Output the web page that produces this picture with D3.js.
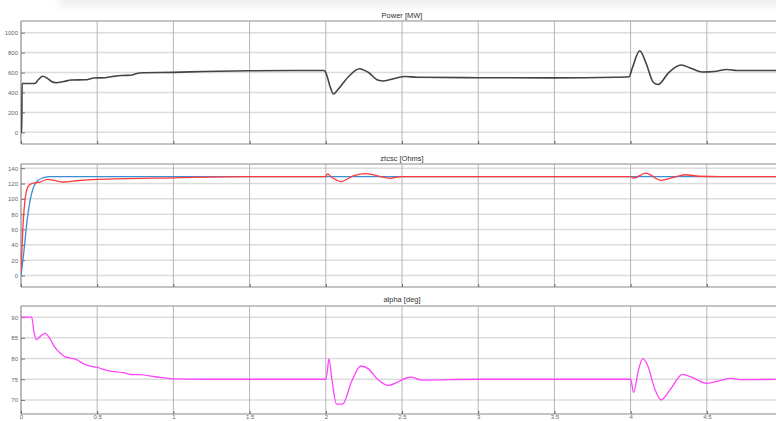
<!DOCTYPE html>
<html>
<head>
<meta charset="utf-8">
<script src="https://cdn.jsdelivr.net/npm/d3@7"></script>
<style>
  body { margin: 0; background: #fff; overflow: hidden; }
  svg { display: block; font-family: "Liberation Sans", Arial, sans-serif; }
</style>
</head>
<body>
<div id="chart"></div>
<script>
// time axis ticks (s)
const xTicks = [0, 0.5, 1, 1.5, 2, 2.5, 3, 3.5, 4, 4.5];
const xTickLabels = ['0', '0.5', '1', '1.5', '2', '2.5', '3', '3.5', '4', '4.5'];

// Power [MW]
const powerT = [0, 0.005, 0.007, 0.09, 0.115, 0.142, 0.17, 0.2, 0.23, 0.28, 0.33, 0.42, 0.48, 0.55, 0.6, 0.66, 0.72, 0.76, 0.8, 1.0, 1.2, 1.5, 1.8, 1.99, 2.0, 2.03, 2.05, 2.08, 2.15, 2.22, 2.28, 2.34, 2.38, 2.45, 2.52, 2.6, 3.0, 3.5, 3.9, 3.99, 4.01, 4.06, 4.1, 4.15, 4.18, 4.25, 4.33, 4.4, 4.47, 4.55, 4.63, 4.7, 5.0];
const powerV = [0, 0, 490, 490, 530, 562, 545, 510, 498, 510, 525, 527, 545, 548, 560, 570, 572, 590, 598, 602, 610, 618, 620, 620, 600, 450, 385, 430, 560, 638, 600, 525, 515, 540, 560, 552, 548, 546, 552, 558, 640, 818, 700, 500, 480, 600, 675, 640, 605, 610, 630, 620, 620];
const powerTicks = [0, 200, 400, 600, 800, 1000];

// ztcsc [Ohms]
const zBlueT = [0, 0.02, 0.04, 0.06, 0.08, 0.105, 0.145, 0.19, 5];
const zBlueV = [0, 33, 72, 98, 114, 123, 127.5, 129, 129];
const zRedT = [0, 0.013, 0.026, 0.046, 0.07, 0.125, 0.175, 0.22, 0.275, 0.38, 0.5, 1.0, 1.5, 2.0, 2.01, 2.04, 2.1, 2.18, 2.26, 2.34, 2.42, 2.5, 4.0, 4.02, 4.1, 4.2, 4.28, 4.36, 4.45, 4.6, 5];
const zRedV = [5, 64, 98, 116, 120, 122, 125.5, 124, 122, 124, 125.4, 127.5, 129, 129, 132.5, 128, 122.6, 130, 133, 130, 126.8, 129, 129, 127, 133.7, 124.2, 128, 131.5, 129.5, 129, 129];
const zTicks = [0, 20, 40, 60, 80, 100, 120, 140];

// alpha [deg]
const alphaT = [0, 0.07, 0.085, 0.1, 0.125, 0.157, 0.19, 0.22, 0.26, 0.29, 0.354, 0.43, 0.5, 0.58, 0.67, 0.72, 0.78, 0.88, 1.0, 1.2, 2.0, 2.01, 2.02, 2.04, 2.07, 2.11, 2.17, 2.23, 2.28, 2.34, 2.41, 2.47, 2.53, 2.56, 2.63, 3.0, 4.0, 4.02, 4.05, 4.08, 4.11, 4.16, 4.2, 4.26, 4.34, 4.4, 4.5, 4.58, 4.66, 4.73, 5];
const alphaV = [90, 90, 86.5, 84.6, 85.3, 86.1, 84.8, 82.8, 81.2, 80.4, 79.9, 78.4, 77.85, 77.0, 76.6, 76.15, 76.1, 75.6, 75.1, 75, 75, 77, 79.9, 75, 69, 69, 74.5, 78.2, 77.5, 75, 73.5, 74.3, 75.3, 75.5, 74.8, 75, 75, 71.8, 77, 80, 78.5, 72.5, 70, 72.5, 76.2, 75.5, 74, 74.6, 75.2, 74.9, 75];
const alphaTicks = [70, 75, 80, 85, 90];

const W = 776, H = 421;
const left = 21, right = 783;

const svg = d3.select('#chart').append('svg')
  .attr('width', W).attr('height', H);

// faint grey smear along the top edge of the screenshot
const defs = svg.append('defs');
defs.append('filter').attr('id', 'blur')
  .attr('x', '-20%').attr('y', '-200%').attr('width', '140%').attr('height', '500%')
  .append('feGaussianBlur').attr('stdDeviation', 4);
svg.append('rect')
  .attr('x', 60).attr('y', -8).attr('width', 740).attr('height', 14)
  .attr('fill', '#d8d8d8').attr('opacity', 0.45).attr('filter', 'url(#blur)');

const x = d3.scaleLinear().domain([0, 5]).range([left, right]);

const panels = [
  { title: 'Power [MW]', top: 21, bottom: 144, domain: [-117, 1117], ticks: powerTicks, titleY: 18,
    series: [{ t: powerT, v: powerV, color: '#444', w: 1.6 }] },
  { title: 'ztcsc [Ohms]', top: 164, bottom: 287, domain: [-15, 145.5], ticks: zTicks, titleY: 161,
    series: [{ t: zBlueT, v: zBlueV, color: '#3b8ed6', w: 1.3 },
             { t: zRedT, v: zRedV, color: '#ff3b3b', w: 1.3 }] },
  { title: 'alpha [deg]', top: 306, bottom: 414, domain: [66.6, 92.7], ticks: alphaTicks, titleY: 302, xLabels: true,
    series: [{ t: alphaT, v: alphaV, color: '#ff44ff', w: 1.3 }] }
];

panels.forEach((p, i) => {
  const y = d3.scaleLinear().domain(p.domain).range([p.bottom, p.top]);
  const g = svg.append('g');

  defs.append('clipPath').attr('id', 'clip' + i)
    .append('rect').attr('x', left).attr('y', p.top)
    .attr('width', right - left).attr('height', p.bottom - p.top);

  // horizontal grid
  g.selectAll('.hgrid').data(p.ticks).join('line')
    .attr('x1', left).attr('x2', right)
    .attr('y1', d => y(d)).attr('y2', d => y(d))
    .attr('stroke', '#dcdcdc').attr('stroke-width', 1.5);

  // vertical grid
  g.selectAll('.vgrid').data(xTicks.slice(1)).join('line')
    .attr('x1', d => x(d)).attr('x2', d => x(d))
    .attr('y1', p.top).attr('y2', p.bottom)
    .attr('stroke', '#b4b4b4').attr('stroke-width', 1);

  // box
  g.append('line').attr('x1', left).attr('x2', right).attr('y1', p.top).attr('y2', p.top)
    .attr('stroke', '#b0b0b0').attr('stroke-width', 1.3);
  g.append('line').attr('x1', left).attr('x2', right).attr('y1', p.bottom).attr('y2', p.bottom)
    .attr('stroke', '#8a8a8a').attr('stroke-width', 1.2);
  g.append('line').attr('x1', left).attr('x2', left).attr('y1', p.top).attr('y2', p.bottom)
    .attr('stroke', '#8a8a8a').attr('stroke-width', 1.2);

  // y axis
  const ya = d3.axisLeft(y).tickValues(p.ticks).tickSize(-4).tickPadding(3)
    .tickFormat(d3.format('d'));
  const yg = g.append('g').attr('transform', `translate(${left},0)`).call(ya);
  yg.select('.domain').remove();
  yg.selectAll('.tick line').attr('stroke', '#777');
  yg.selectAll('.tick text').attr('fill', '#666').attr('font-size', 6);

  // x axis ticks (labels only on the last panel)
  const xa = d3.axisBottom(x).tickValues(xTicks).tickSize(-3).tickPadding(1)
    .tickFormat((d, k) => p.xLabels ? xTickLabels[k] : '');
  const xg = g.append('g').attr('transform', `translate(0,${p.bottom})`).call(xa);
  xg.select('.domain').remove();
  xg.selectAll('.tick line').attr('stroke', '#666');
  xg.selectAll('.tick text').attr('fill', '#666').attr('font-size', 6);

  // title
  g.append('text').attr('x', (left + right) / 2).attr('y', p.titleY)
    .attr('text-anchor', 'middle').attr('font-size', 7.5).attr('fill', '#333')
    .text(p.title);

  // series
  const line = d3.line().x(d => x(d[0])).y(d => y(d[1])).curve(d3.curveMonotoneX);
  const lg = g.append('g').attr('clip-path', `url(#clip${i})`);
  p.series.forEach(s => {
    lg.append('path')
      .datum(s.t.map((t, k) => [t, s.v[k]]))
      .attr('d', line)
      .attr('fill', 'none')
      .attr('stroke', s.color)
      .attr('stroke-width', s.w)
      .attr('stroke-linejoin', 'round');
  });
});
</script>
</body>
</html>
